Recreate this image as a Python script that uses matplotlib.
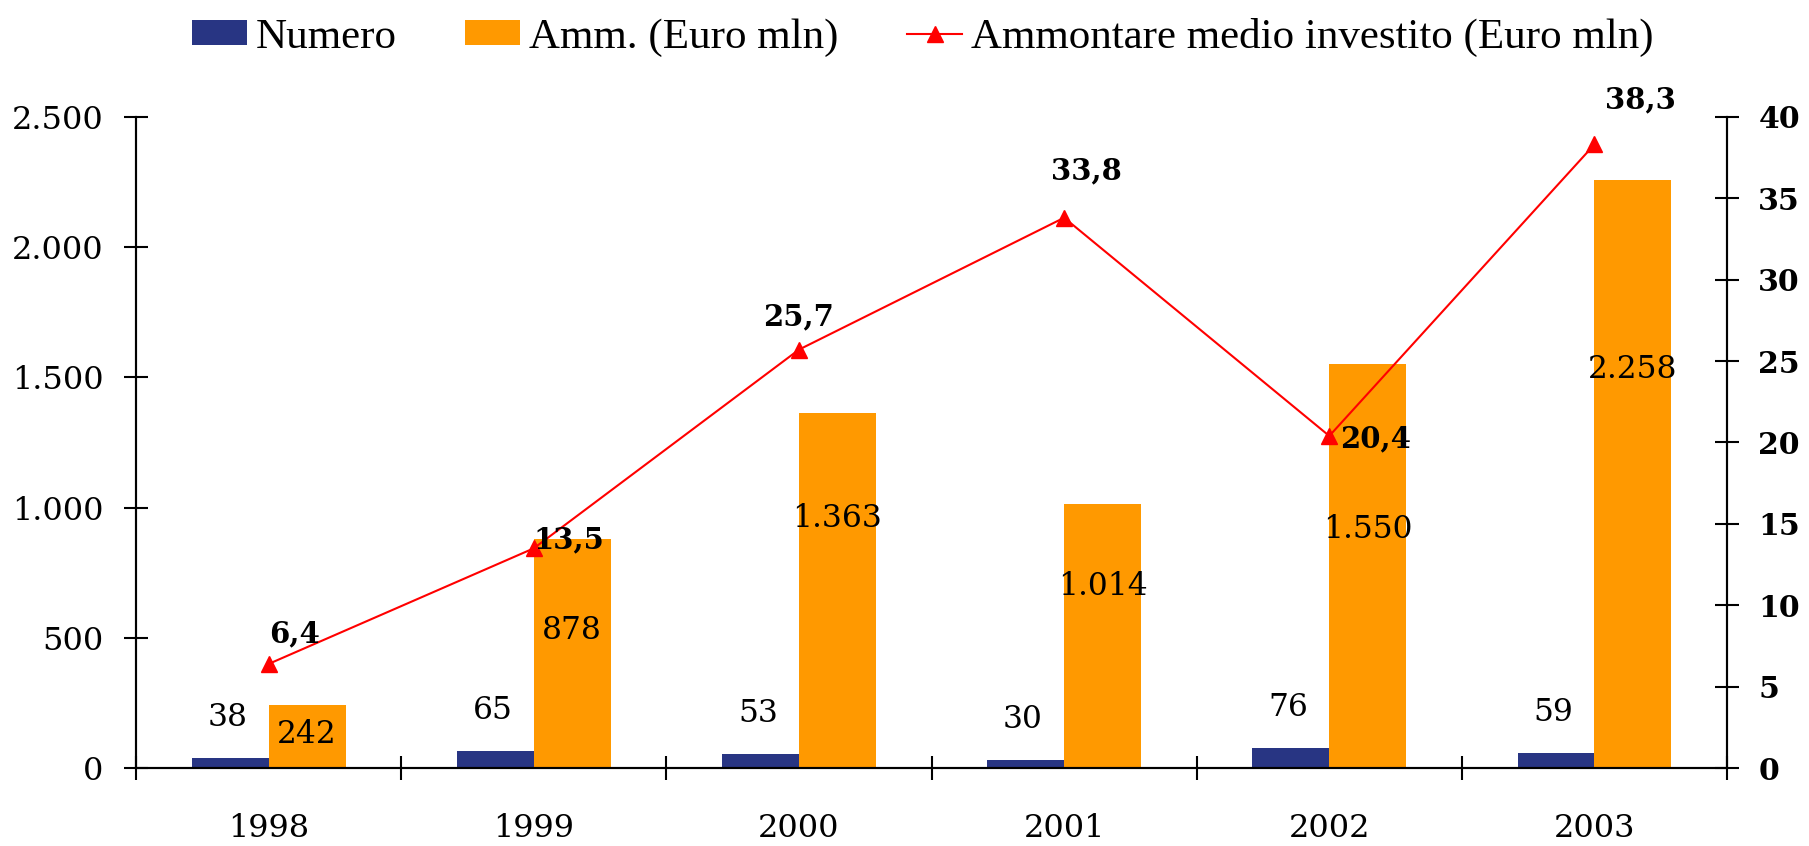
import numpy as np
import matplotlib
matplotlib.use("Agg")
import matplotlib.pyplot as plt

anni = ["1998", "1999", "2000", "2001", "2002", "2003"]
numero = [38, 65, 53, 30, 76, 59]
ammontare = [242, 878, 1363, 1014, 1550, 2258]
medio = [6.4, 13.5, 25.7, 33.8, 20.4, 38.3]

numero_lbl = ["38", "65", "53", "30", "76", "59"]
amm_lbl = ["242", "878", "1.363", "1.014", "1.550", "2.258"]
medio_lbl = ["6,4", "13,5", "25,7", "33,8", "20,4", "38,3"]

# where the labels sit (layout only)
amm_lbl_y = [128, 527, 960, 699, 916, 1531]
medio_off = [(26, 30), (35, 8), (0, 33), (22, 47), (46, -3), (46, 45)]

navy = "#283583"
orange = "#FF9900"
serif = "DejaVu Serif"

fig = plt.figure(figsize=(18.09, 8.46), dpi=100)
ax = fig.add_axes([0.0752, 0.092, 0.8795, 0.77])
ax2 = ax.twinx()

x = np.arange(len(anni))
w = 0.29
b1 = ax.bar(x - w / 2, numero, w, color=navy, label="Numero", zorder=2)
b2 = ax.bar(x + w / 2, ammontare, w, color=orange, label="Amm. (Euro mln)", zorder=2)

for i in range(len(anni)):
    ax.text(x[i] - w / 2 - 0.01, numero[i] + 155, numero_lbl[i], ha="center", va="center",
            fontsize=22.5, family=serif)
    ax.text(x[i] + w / 2, amm_lbl_y[i], amm_lbl[i], ha="center", va="center",
            fontsize=22.5, family=serif)

ln, = ax2.plot(x, medio, color="red", lw=1.5, marker="^", markersize=12,
               label="Ammontare medio investito (Euro mln)", zorder=3)
for i in range(len(anni)):
    ax2.annotate(medio_lbl[i], (x[i], medio[i]), xytext=medio_off[i], textcoords="offset pixels",
                 ha="center", va="center", fontsize=21, fontweight="bold", family=serif)

ax.set_xlim(-0.5, len(anni) - 0.5)
ax.set_ylim(0, 2500)
ax2.set_ylim(0, 40)
ax.set_yticks(range(0, 2501, 500))
ax.set_yticklabels(["0", "500", "1.000", "1.500", "2.000", "2.500"], family=serif, fontsize=23)
ax2.set_yticks(range(0, 41, 5))
ax2.set_yticklabels([str(v) for v in range(0, 41, 5)], family=serif, fontsize=21.5, fontweight="bold")

ax.set_xticks(np.arange(-0.5, len(anni), 1.0))
ax.set_xticklabels([])
ax.set_xticks(x, minor=True)
ax.set_xticklabels(anni, minor=True, family=serif, fontsize=23)
ax.tick_params(axis="x", which="major", direction="inout", length=17, width=1.5)
ax.tick_params(axis="x", which="minor", length=0, pad=32)
ax.tick_params(axis="y", direction="inout", length=17, width=1.5, pad=15)
ax2.tick_params(axis="y", direction="inout", length=17, width=1.5, pad=14)

for a in (ax, ax2):
    a.spines["top"].set_visible(False)
    for s in ("left", "right", "bottom"):
        a.spines[s].set_linewidth(1.5)

fig.legend([b1, b2, ln], [b1.get_label(), b2.get_label(), ln.get_label()],
           loc="upper center", bbox_to_anchor=(0.51, 1.025), ncol=3, frameon=False,
           prop={"family": "Liberation Serif", "size": 31}, handlelength=1.28,
           handleheight=0.53, handletextpad=0.2, columnspacing=1.6)

fig.savefig("out.png", dpi=100)
